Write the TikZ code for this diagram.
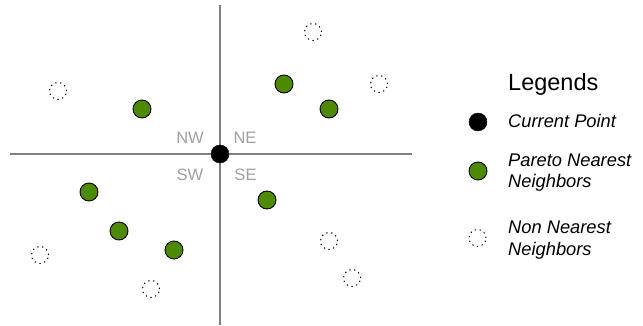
\documentclass[tikz,border=0pt]{standalone}
\usepackage{fontspec}
\setmainfont{Liberation Sans}
\definecolor{pgreen}{RGB}{78,138,0}
\definecolor{axisgray}{RGB}{128,128,128}
\definecolor{lblgray}{RGB}{160,160,160}
\begin{document}
\begin{tikzpicture}[x=1pt,y=-1pt,
  cur/.style={circle,fill=black,draw=black,minimum size=18pt,inner sep=0pt},
  par/.style={circle,fill=pgreen,draw=black,line width=0.9pt,minimum size=18pt,inner sep=0pt},
  non/.style={circle,draw=black,dash pattern=on 1.3pt off 3.6pt,line width=1pt,minimum size=17pt,inner sep=0pt},
  axis/.style={draw=axisgray,line width=1.1pt},
  quad/.style={text=lblgray,inner sep=0pt,font=\fontsize{16.5}{16.5}\selectfont},
  leg/.style={anchor=base west,inner sep=0pt,align=left,font=\fontsize{18.3}{21.5}\selectfont\itshape}]
\useasboundingbox (0,0) rectangle (643,326);
% axes
\coordinate (top) at (220,5);
\coordinate (bot) at (220,325);
\coordinate (lft) at (10,154);
\coordinate (rgt) at (412,154);
\draw[axis] (top) -- (bot);
\draw[axis] (lft) -- (rgt);
% quadrant labels
\node[quad] (nw) at (190,137.5) {NW};
\node[quad] (ne) at (245,137.5) {NE};
\node[quad] (sw) at (190,175) {SW};
\node[quad] (se) at (245.5,175) {SE};
% current point
\node[cur] (c) at (220,154) {};
% pareto
\node[par] (p1) at (142,109) {};
\node[par] (p2) at (89,192) {};
\node[par] (p3) at (119,231) {};
\node[par] (p4) at (174,250) {};
\node[par] (p5) at (284,84) {};
\node[par] (p6) at (329,109) {};
\node[par] (p7) at (267,200) {};
% non nearest
\node[non] (n1) at (58,91) {};
\node[non] (n2) at (40,255) {};
\node[non] (n3) at (151,289) {};
\node[non] (n4) at (313,32) {};
\node[non] (n5) at (379,84) {};
\node[non] (n6) at (329,241) {};
\node[non] (n7) at (352,278) {};
% legend
\node[anchor=base west,inner sep=0pt,font=\fontsize{23.5}{23.5}\selectfont] (lt) at (508,91) {Legends};
\node[cur] (lc) at (478,122) {};
\node[leg] (lct) at (508,128) {Current Point};
\node[par] (lp) at (478,171) {};
\node[leg] (lpt) at (508,188) {Pareto Nearest\\Neighbors};
\node[non] (ln) at (477.5,238) {};
\node[leg] (lnt) at (508,255) {Non Nearest\\Neighbors};
\end{tikzpicture}
\end{document}
